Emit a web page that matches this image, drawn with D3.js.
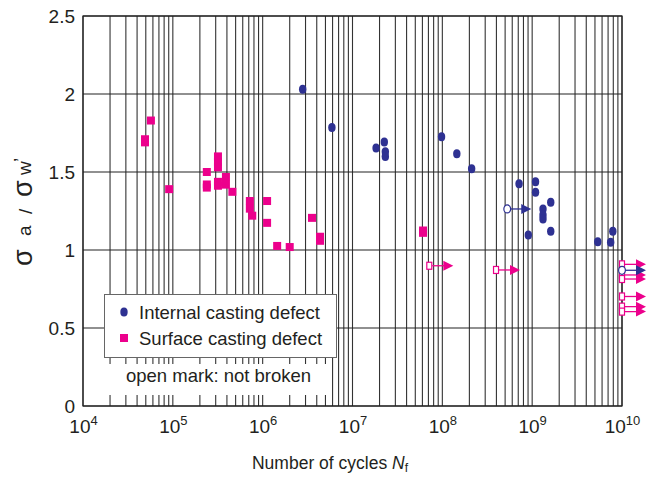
<!DOCTYPE html>
<html>
<head>
<meta charset="utf-8">
<script src="https://cdn.jsdelivr.net/npm/d3@7"></script>
<style>
  body { margin: 0; background: #fff; }
  text { font-family: "Liberation Sans", Arial, sans-serif; fill: #231f20; }
</style>
</head>
<body>
<svg id="chart" width="652" height="477"></svg>
<script>
// broken specimens: [cycles, stress ratio]
var internalPts = [
  [2.79e6, 2.03], [5.9e6, 1.786], [1.83e7, 1.654], [2.26e7, 1.692], [2.32e7, 1.63], [2.32e7, 1.60],
  [9.8e7, 1.726], [1.45e8, 1.617], [2.12e8, 1.521], [7.15e8, 1.425], [9.06e8, 1.096],
  [1.09e9, 1.438], [1.09e9, 1.37], [1.32e9, 1.263], [1.32e9, 1.224], [1.32e9, 1.199],
  [1.61e9, 1.306], [1.61e9, 1.12], [5.37e9, 1.053], [7.48e9, 1.049], [7.9e9, 1.12]
];
var surfacePts = [
  [4.9e4, 1.71], [4.9e4, 1.69], [5.7e4, 1.83], [9.1e4, 1.39],
  [2.39e5, 1.50], [2.39e5, 1.42], [2.39e5, 1.40],
  [3.18e5, 1.60], [3.18e5, 1.565], [3.18e5, 1.53], [3.18e5, 1.437], [3.18e5, 1.412],
  [3.9e5, 1.468], [3.9e5, 1.419], [4.6e5, 1.373], [7.2e5, 1.314], [7.2e5, 1.265], [7.66e5, 1.22],
  [1.12e6, 1.314], [1.12e6, 1.174], [1.45e6, 1.026], [2.0e6, 1.019], [3.54e6, 1.206],
  [4.35e6, 1.085], [4.35e6, 1.059], [6.1e7, 1.125], [6.1e7, 1.11]
];
// not broken (run-outs)
var internalRunouts = [[5.28e8, 1.263], [1e10, 0.87]];
var surfaceRunouts = [
  [7.16e7, 0.899], [3.96e8, 0.872], [1e10, 0.908], [1e10, 0.84], [1e10, 0.814],
  [1e10, 0.702], [1e10, 0.637], [1e10, 0.605]
];
var yTicks = [0, 0.5, 1, 1.5, 2, 2.5];
var xDecades = [4, 5, 6, 7, 8, 9, 10];

var PINK = "#ec008c", NAVY = "#2e3192";

var svg = d3.select("#chart");
var x = d3.scaleLog().domain([1e4, 1e10]).range([83, 622]);
var y = d3.scaleLinear().domain([0, 2.5]).range([406, 16]);

var grid = svg.append("g");
// vertical grid at every log tick
grid.selectAll("line.v").data(x.ticks()).enter().append("line")
  .attr("class", "v")
  .attr("x1", function(d){ return x(d); }).attr("x2", function(d){ return x(d); })
  .attr("y1", y(2.5)).attr("y2", y(0))
  .attr("stroke", "#333").attr("stroke-width", 1.1);
grid.selectAll("line.h").data(yTicks).enter().append("line")
  .attr("class", "h")
  .attr("x1", x(1e4)).attr("x2", x(1e10))
  .attr("y1", function(d){ return y(d); }).attr("y2", function(d){ return y(d); })
  .attr("stroke", "#222").attr("stroke-width", 1.2);
grid.append("rect")
  .attr("x", x(1e4)).attr("y", y(2.5))
  .attr("width", x(1e10) - x(1e4)).attr("height", y(0) - y(2.5))
  .attr("fill", "none").attr("stroke", "#222").attr("stroke-width", 1.2);

// y axis labels
var yAxis = d3.axisLeft(y).tickValues(yTicks).tickSize(0).tickPadding(8)
  .tickFormat(function(d){ return String(d); });
svg.append("g").attr("transform", "translate(" + x(1e4) + ",0)").call(yAxis)
  .call(function(g){ g.select(".domain").remove(); })
  .selectAll("text").attr("font-size", 19).attr("font-family", null).attr("fill", "#231f20");

// x axis labels 10^n
var xAxis = d3.axisBottom(x).tickValues(xDecades.map(function(e){ return Math.pow(10, e); }))
  .tickSize(0).tickPadding(14).tickFormat("");
var xg = svg.append("g").attr("transform", "translate(0," + y(0) + ")").call(xAxis);
xg.select(".domain").remove();
xg.selectAll(".tick text").each(function(d){
  var t = d3.select(this).attr("font-size", 19).attr("font-family", null).attr("fill", "#231f20");
  t.append("tspan").text("10");
  t.append("tspan").attr("font-size", 13).attr("dy", -8).text(Math.round(Math.log10(d)));
});

// axis titles
svg.append("text").attr("x", 330).attr("y", 469).attr("text-anchor", "middle").attr("font-size", 17.5)
  .call(function(t){
    t.append("tspan").text("Number of cycles ");
    t.append("tspan").attr("font-style", "italic").text("N");
    t.append("tspan").attr("font-size", 12).attr("dy", 3).text("f");
  });
// rotated y title, pieces placed along the (rotated) baseline
var yt = svg.append("text").attr("transform", "translate(32,0) rotate(-90)").attr("font-size", 19);
yt.append("tspan").attr("x", -266).attr("y", 0).attr("font-size", 27).text("\u03c3");
yt.append("tspan").attr("x", -236).attr("y", -1.5).text("a");
yt.append("tspan").attr("x", -214).attr("y", 0).text("/");
yt.append("tspan").attr("x", -197).attr("y", 0).attr("font-size", 27).text("\u03c3");
yt.append("tspan").attr("x", -175).attr("y", -1).text("w");
yt.append("tspan").attr("x", -162).attr("y", -5).text("\u2019");

// legend
var lg = svg.append("g");
lg.append("rect").attr("x", 104.5).attr("y", 294.5).attr("width", 232).attr("height", 63)
  .attr("fill", "#fff").attr("stroke", "#666").attr("stroke-width", 1);
lg.append("ellipse").attr("cx", 124).attr("cy", 312).attr("rx", 3.7).attr("ry", 4.5).attr("fill", NAVY);
lg.append("rect").attr("x", 120).attr("y", 334).attr("width", 8).attr("height", 8).attr("fill", PINK);
lg.append("text").attr("x", 139).attr("y", 319).attr("font-size", 18.5).text("Internal casting defect");
lg.append("text").attr("x", 139).attr("y", 345).attr("font-size", 18.5).text("Surface casting defect");
svg.append("rect").attr("x", 104).attr("y", 364).attr("width", 227).attr("height", 31).attr("fill", "#fff");
svg.append("text").attr("x", 126).attr("y", 382).attr("font-size", 18.5).text("open mark: not broken");

// run-out arrows
function drawRunouts(data, color, shape) {
  var g = svg.append("g");
  var a = g.selectAll("g").data(data).enter().append("g")
    .attr("transform", function(d){ return "translate(" + x(d[0]) + "," + y(d[1]) + ")"; });
  a.append("line").attr("x1", 3).attr("x2", 15).attr("y1", 0).attr("y2", 0)
    .attr("stroke", color).attr("stroke-width", 1.3);
  a.append("path").attr("d", "M14,-5L24,0L14,5Z").attr("fill", color);
  if (shape === "circle") {
    a.append("ellipse").attr("rx", 3.4).attr("ry", 4).attr("fill", "#fff")
      .attr("stroke", color).attr("stroke-width", 1.2);
  } else {
    a.append("rect").attr("x", -2.5).attr("y", -3.5).attr("width", 5).attr("height", 7)
      .attr("fill", "#fff").attr("stroke", color).attr("stroke-width", 1.2);
  }
}
drawRunouts(surfaceRunouts, PINK, "square");
drawRunouts(internalRunouts, NAVY, "circle");

// broken points
svg.append("g").selectAll("rect").data(surfacePts).enter().append("rect")
  .attr("x", function(d){ return x(d[0]) - 4; }).attr("y", function(d){ return y(d[1]) - 4; })
  .attr("width", 8).attr("height", 8).attr("fill", PINK);
svg.append("g").selectAll("ellipse").data(internalPts).enter().append("ellipse")
  .attr("cx", function(d){ return x(d[0]); }).attr("cy", function(d){ return y(d[1]); })
  .attr("rx", 3.7).attr("ry", 4.5).attr("fill", NAVY);
</script>
</body>
</html>
